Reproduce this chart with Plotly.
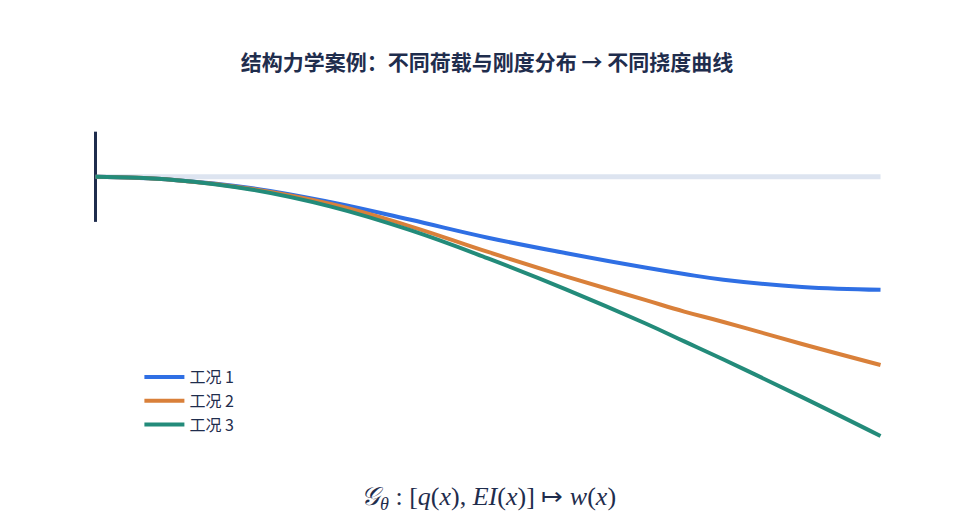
import plotly.graph_objects as go

# deflection values

xs = [0, 0.1, 0.2, 0.3, 0.4, 0.5, 0.6, 0.7, 0.75, 0.8, 0.9, 1.0]
cases = {
    "工况 1": ([0, -0.012, -0.044, -0.098, -0.165, -0.235, -0.295, -0.35, -0.375, -0.397, -0.425, -0.436], "#2f6fe4"),
    "工况 2": ([0, -0.012, -0.047, -0.105, -0.19, -0.29, -0.385, -0.475, -0.52, -0.56, -0.645, -0.726], "#d9803a"),
    "工况 3": ([0, -0.012, -0.05, -0.115, -0.205, -0.315, -0.435, -0.565, -0.635, -0.705, -0.85, -1.0], "#238b7a"),
}

fig = go.Figure()

# undeformed beam and clamped wall

fig.add_trace(go.Scatter(x=[0, 1], y=[0, 0], mode="lines",
                         line=dict(color="#dde4f0", width=5), showlegend=False, hoverinfo="skip"))
fig.add_trace(go.Scatter(x=[0, 0], y=[0.174, -0.174], mode="lines",
                         line=dict(color="#1f2d4d", width=3), showlegend=False, hoverinfo="skip"))

for name, (ys, color) in cases.items():
    fig.add_trace(go.Scatter(x=xs, y=ys, mode="lines", name=name,
                             line=dict(color=color, width=4, shape="spline", smoothing=1.2)))

fig.update_layout(
    title=dict(text="<b>结构力学案例：不同荷载与刚度分布 → 不同挠度曲线</b>", x=0.5, y=0.91,
               font=dict(size=21, color="#1f2d4d", family="Noto Sans CJK SC")),
    width=958, height=528,
    plot_bgcolor="white", paper_bgcolor="white",
    margin=dict(l=60, r=58, t=91, b=87),
    xaxis=dict(visible=False, range=[-0.035, 1.035]),
    yaxis=dict(visible=False, range=[-1.05, 0.3]),
    legend=dict(x=0.085, y=0.02, xanchor="left", yanchor="bottom", itemwidth=40,
                font=dict(size=16, color="#1f2d4d", family="Noto Sans CJK SC")),
    font=dict(family="Noto Sans CJK SC"),
)
fig.add_annotation(text="<i>𝒢<sub>θ</sub></i> : [<i>q</i>(<i>x</i>), <i>EI</i>(<i>x</i>)] ↦ <i>w</i>(<i>x</i>)",
                   xref="paper", yref="paper", x=0.5, y=-0.19, showarrow=False,
                   font=dict(size=26, color="#1f2d4d", family="Liberation Serif"))

fig.write_html("out.html")
